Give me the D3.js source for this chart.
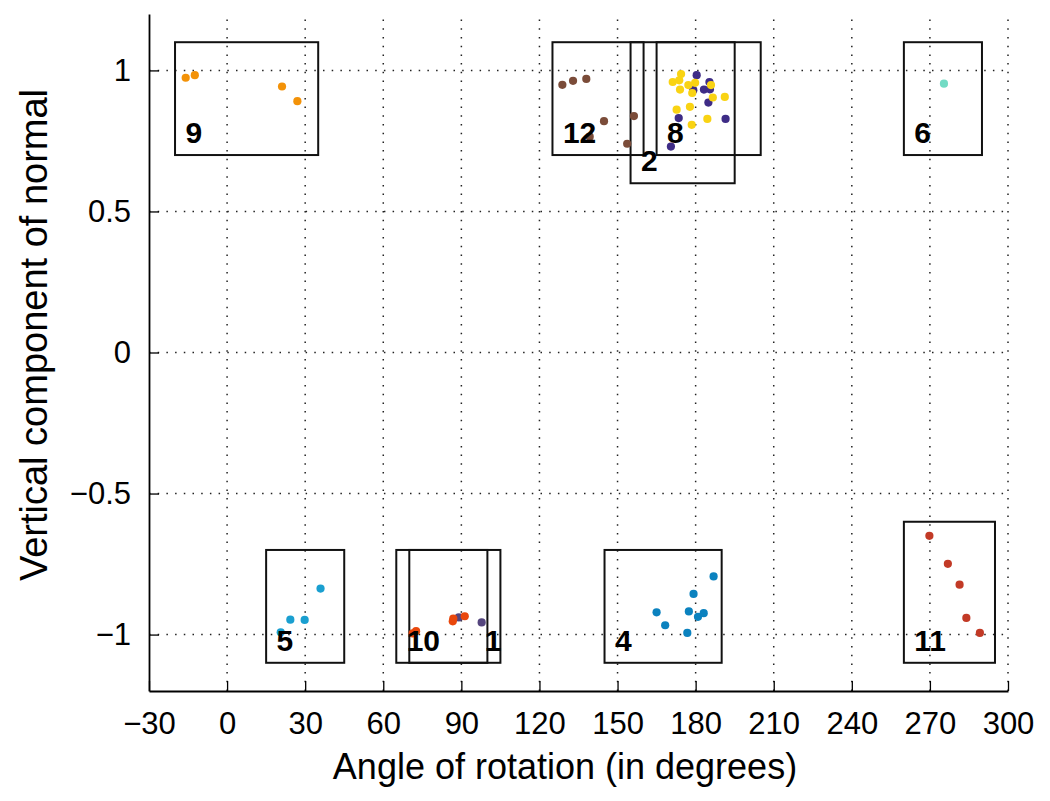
<!DOCTYPE html>
<html>
<head>
<meta charset="utf-8">
<script src="https://cdn.jsdelivr.net/npm/d3@7"></script>
<style>
  html, body { margin: 0; padding: 0; background: #fff; }
  svg { display: block; }
  text { font-family: "Liberation Sans", Arial, Helvetica, sans-serif; fill: #000; }
</style>
</head>
<body>
<svg id="chart" width="1050" height="801"></svg>
<script>
// ---------- data ----------
const xTicks = [-30, 0, 30, 60, 90, 120, 150, 180, 210, 240, 270, 300];
const yTicks = [-1, -0.5, 0, 0.5, 1];
const xTitle = "Angle of rotation (in degrees)";
const yTitle = "Vertical component of normal";

const groupIds  = ["9", "12", "2", "8", "6", "5", "10", "1", "4", "11"];
const groupColors = ["#f39208", "#7b4c39", "#3e2c86", "#f9d313", "#72dbc4", "#1a9fd0", "#e9470c", "#54457e", "#0b82bf", "#c23a26"];
const boxX0 = [-20, 125, 155, 165, 260, 15, 65, 70, 145, 260];
const boxX1 = [35, 160, 195, 205, 290, 45, 100, 105, 190, 295];
const boxY0 = [0.7, 0.7, 0.6, 0.7, 0.7, -1.1, -1.1, -1.1, -1.1, -1.1];
const boxY1 = [1.1, 1.1, 1.1, 1.1, 1.1, -0.7, -0.7, -0.7, -0.7, -0.6];
const labelX = [-16, 129, 159, 169, 264, 19, 69, 99, 149, 264];
const labelY = [0.742, 0.742, 0.642, 0.742, 0.742, -1.058, -1.058, -1.058, -1.058, -1.058];

const pts9  = [[-15.9, 0.974], [-12.4, 0.983], [21.1, 0.943], [27.0, 0.891]];
const pts12 = [[128.8, 0.949], [132.9, 0.963], [138.0, 0.970], [144.8, 0.820], [156.3, 0.838], [153.7, 0.740], [139.3, 0.765]];
const pts2  = [[180.4, 0.983], [185.3, 0.959], [183.2, 0.932], [185.5, 0.933], [179.1, 0.930], [184.9, 0.886], [173.5, 0.831], [191.5, 0.828], [170.5, 0.730]];
const pts8  = [[174.4, 0.987], [171.2, 0.959], [173.7, 0.965], [174.0, 0.932], [177.2, 0.948], [178.7, 0.920], [179.8, 0.956], [185.9, 0.948], [186.6, 0.904], [191.2, 0.906], [172.7, 0.861], [177.8, 0.871], [184.5, 0.828], [178.5, 0.807]];
const pts6  = [[275.4, 0.953]];
const pts5  = [[20.6, -0.992], [24.3, -0.947], [29.8, -0.948], [35.9, -0.837]];
const pts1  = [[89.0, -0.939], [97.8, -0.957]];
const pts10 = [[71.3, -0.996], [72.6, -0.988], [86.7, -0.953], [86.9, -0.943], [91.3, -0.935]];
const pts4  = [[165.0, -0.921], [168.3, -0.967], [176.8, -0.994], [177.4, -0.918], [179.2, -0.856], [180.9, -0.937], [183.1, -0.924], [186.9, -0.794]];
const pts11 = [[269.8, -0.650], [276.9, -0.749], [281.4, -0.823], [284.0, -0.941], [289.2, -0.994]];

// drawing order of point groups (by group id)
const pointOrder = ["9", "12", "2", "8", "6", "5", "1", "10", "4", "11"];
const pointSets = { "9": pts9, "12": pts12, "2": pts2, "8": pts8, "6": pts6, "5": pts5, "1": pts1, "10": pts10, "4": pts4, "11": pts11 };

// ---------- layout ----------
const svg = d3.select("#chart");
const L = 149, R = 1008, T = 14, B = 691;
const x = d3.scaleLinear().domain([-30, 300]).range([L, R]);
const y = d3.scaleLinear().domain([-1.2, 1.2]).range([B, T]);
const colorOf = id => groupColors[groupIds.indexOf(id)];
const FONT = "\"Liberation Sans\", Arial, sans-serif";

// grid
const grid = svg.append("g").attr("stroke", "#222").attr("stroke-width", 1.5)
  .attr("stroke-dasharray", "1.5,7.2").attr("fill", "none");
grid.selectAll("line.v").data(xTicks.filter(d => d > -30)).join("line")
  .attr("x1", d => x(d)).attr("x2", d => x(d)).attr("y1", B).attr("y2", T);
grid.selectAll("line.h").data(yTicks).join("line")
  .attr("x1", L).attr("x2", R).attr("y1", d => y(d)).attr("y2", d => y(d));

// axes
const fmt = d => d < 0 ? "\u2212" + Math.abs(d) : d;
const xAxis = d3.axisBottom(x).tickValues(xTicks).tickSizeInner(-10).tickSizeOuter(0)
  .tickPadding(21).tickFormat(fmt);
const gx = svg.append("g").attr("transform", `translate(0,${B})`).call(xAxis);
gx.select(".domain").attr("stroke", "#000").attr("stroke-width", 1.8);
gx.selectAll(".tick line").attr("stroke", "#000").attr("stroke-width", 1.3);
gx.selectAll(".tick text").attr("font-size", 31).attr("fill", "#000").attr("font-family", FONT);

const yAxis = d3.axisLeft(y).tickValues(yTicks).tickSizeInner(-10).tickSizeOuter(0)
  .tickPadding(18).tickFormat(fmt);
const gy = svg.append("g").attr("transform", `translate(${L},0)`).call(yAxis);
gy.select(".domain").attr("stroke", "#000").attr("stroke-width", 1.8);
gy.selectAll(".tick line").attr("stroke", "#000").attr("stroke-width", 1.3);
gy.selectAll(".tick text").attr("font-size", 31).attr("fill", "#000").attr("font-family", FONT);

// axis titles
svg.append("text").attr("x", 565).attr("y", 779).attr("text-anchor", "middle")
  .attr("font-size", 36).text(xTitle);
svg.append("text").attr("transform", "translate(47,335) rotate(-90)").attr("text-anchor", "middle")
  .attr("font-size", 38).text(yTitle);

// boxes
svg.append("g").selectAll("rect").data(groupIds).join("rect")
  .attr("x", (d, i) => x(boxX0[i])).attr("y", (d, i) => y(boxY1[i]))
  .attr("width", (d, i) => x(boxX1[i]) - x(boxX0[i]))
  .attr("height", (d, i) => y(boxY0[i]) - y(boxY1[i]))
  .attr("fill", "none").attr("stroke", "#111").attr("stroke-width", 2);

// points
const gp = svg.append("g");
pointOrder.forEach(id => {
  gp.append("g").selectAll("circle").data(pointSets[id]).join("circle")
    .attr("cx", d => x(d[0])).attr("cy", d => y(d[1])).attr("r", 4.1)
    .attr("fill", colorOf(id));
});

// labels
svg.append("g").selectAll("text").data(groupIds).join("text")
  .attr("x", (d, i) => x(labelX[i])).attr("y", (d, i) => y(labelY[i]))
  .attr("font-size", 30).attr("font-weight", "bold").text(d => d);
</script>
</body>
</html>
